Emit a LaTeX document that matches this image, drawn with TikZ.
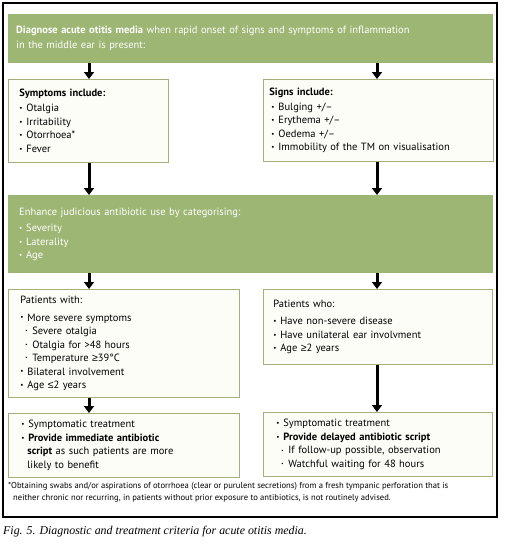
\documentclass[tikz,border=0pt]{standalone}
\usepackage{fontspec}
\setmainfont{PT Sans}
\newfontfamily\capfont{Liberation Serif}
\newfontfamily\relfont{Liberation Sans}
\usetikzlibrary{arrows.meta, positioning}
\definecolor{aomGreen}{RGB}{157,182,116}
\definecolor{aomLine}{RGB}{163,176,125}
\definecolor{aomFill}{RGB}{253,253,248}

\newcommand{\bul}{\makebox[7pt][l]{\raisebox{0.2ex}{\scriptsize\textbullet}}}
\newcommand{\itm}[1]{\bul#1}
\newcommand{\subitm}[1]{\hspace*{5pt}\makebox[7pt][l]{\raisebox{0.3ex}{\tiny\textbullet}}#1}
\newcommand{\rel}[1]{{\relfont #1}}

\begin{document}
\begin{tikzpicture}[x=1pt, y=-1pt, >=stealth,
    every node/.style={font=\fontsize{10.5}{13.5}\selectfont},
    greenbox/.style={fill=aomGreen, text=white, anchor=north west, align=left, inner ysep=0pt},
    whitebox/.style={draw=aomLine, fill=aomFill, line width=0.8pt, anchor=north west, align=left, inner ysep=0pt},
    flow/.style={-{Triangle[width=10pt, length=7pt]}, line width=3pt}]
    \useasboundingbox (0,0) rectangle (505,544);
    \draw[line width=1.3pt] (3,3) rectangle (497,517);

    % columns of the arrows
    \coordinate (colL) at (89,0);
    \coordinate (colR) at (377,0);

    \node[greenbox, inner xsep=8pt, text width=469pt, minimum height=49pt] (diag) at (8,14)
        {\textbf{Diagnose acute otitis media} when rapid onset of signs and symptoms of inflammation\\[1.5pt]
         in the middle ear is present:};

    \node[whitebox, inner xsep=11pt, text width=138pt, minimum height=83pt] (sympt) at (8,79)
        {\textbf{Symptoms include:}\\[1.5pt]
         \itm{Otalgia}\\ \itm{Irritability}\\ \itm{Otorrhoea*}\\ \itm{Fever}};
    \node[whitebox, inner xsep=6pt, text width=218pt, minimum height=82pt] (signs) at (263,79)
        {\textbf{Signs include:}\\[1.5pt]
         \hspace*{2pt}\itm{Bulging +/--}\\ \hspace*{2pt}\itm{Erythema +/--}\\ \hspace*{2pt}\itm{Oedema +/--}\\
         \hspace*{2pt}\itm{Immobility of the TM on visualisation}};

    \node[greenbox, inner xsep=11pt, text width=463pt, minimum height=78pt] (enh) at (8,195)
        {Enhance judicious antibiotic use by categorising:\\[3pt]
         \itm{Severity}\\ \itm{Laterality}\\ \itm{Age}\\[4pt]};

    \node[whitebox, inner xsep=12pt, text width=207pt, minimum height=108pt] (pwith) at (8,289)
        {Patients with:\\[4pt]
         \itm{More severe symptoms}\\ \subitm{Severe otalgia}\\ \subitm{Otalgia for >48 hours}\\
         \subitm{Temperature \rel{≥}39°C}\\ \itm{Bilateral involvement}\\ \itm{Age \rel{≤}2 years}};
    \node[whitebox, inner xsep=10pt, text width=209pt, minimum height=75pt] (pwho) at (263,289)
        {Patients who:\\[4pt]
         \itm{Have non-severe disease}\\ \itm{Have unilateral ear involvment}\\ \itm{Age \rel{≥}2 years}\\[8pt]};

    \node[whitebox, inner xsep=13pt, text width=205pt, minimum height=64pt] (immed) at (8,413)
        {\itm{Symptomatic treatment}\\ \itm{\textbf{Provide immediate antibiotic}}\\
         \hspace*{6pt}\textbf{script} as such patients are more\\ \hspace*{6pt}likely to benefit};
    \node[whitebox, inner xsep=13pt, text width=203pt, minimum height=64pt] (delay) at (263,412)
        {\itm{Symptomatic treatment}\\ \itm{\textbf{Provide delayed antibiotic script}}\\
         \subitm{If follow-up possible, observation}\\ \subitm{Watchful waiting for 48 hours}};

    \draw[flow] (diag.south -| colL) -- (sympt.north -| colL);
    \draw[flow] (diag.south -| colR) -- (signs.north -| colR);
    \draw[flow] (sympt.south -| colL) -- (enh.north -| colL);
    \draw[flow] (signs.south -| colR) -- (enh.north -| colR);
    \draw[flow] (enh.south -| colL) -- (pwith.north -| colL);
    \draw[flow] (enh.south -| colR) -- (pwho.north -| colR);
    \draw[flow] (pwith.south -| colL) -- (immed.north -| colL);
    \draw[flow] (pwho.south -| colR) -- (delay.north -| colR);

    \node[anchor=north west, align=left, inner sep=0pt, font=\fontsize{8.6}{12}\selectfont] (note) at (8,482)
        {*Obtaining swabs and/or aspirations of otorrhoea (clear or purulent secretions) from a fresh tympanic perforation that is\\
         \hspace*{5pt}neither chronic nor recurring, in patients without prior exposure to antibiotics, is not routinely advised.};

    \node[anchor=west, inner sep=0pt, font=\capfont\itshape\fontsize{11.9}{14}\selectfont] (caption) at (3,532)
        {Fig. 5. Diagnostic and treatment criteria for acute otitis media.};
\end{tikzpicture}
\end{document}
